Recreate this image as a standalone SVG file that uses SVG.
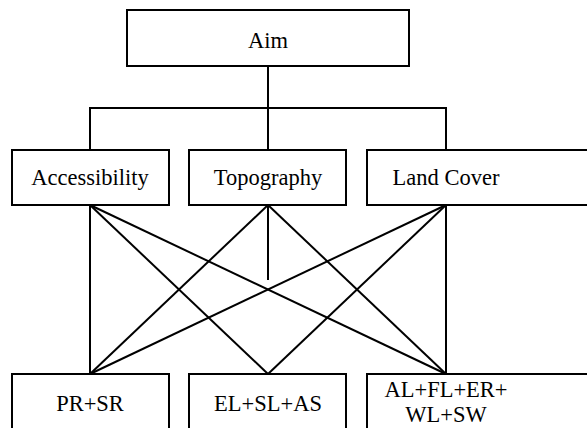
<svg xmlns="http://www.w3.org/2000/svg" width="587" height="428" viewBox="0 0 587 428">
<style>
rect{fill:#fff;stroke:#000;stroke-width:2}
line,path{stroke:#000;stroke-width:2;fill:none}
text{font-family:"Liberation Serif","Times New Roman",serif;font-size:22.5px;fill:#000;text-anchor:middle}
</style>
<rect x="0" y="0" width="587" height="428" style="stroke:none"/>
<g id="connectors">
<path d="M268 66V108M90 150V108H446V150M268 108V150"/>
<line x1="90" y1="205" x2="90" y2="374"/>
<line x1="90" y1="205" x2="268" y2="374"/>
<line x1="90" y1="205" x2="446" y2="374"/>
<line x1="268" y1="205" x2="90" y2="374"/>
<line x1="268" y1="205" x2="446" y2="374"/>
<line x1="268" y1="205" x2="268" y2="280"/>
<line x1="446" y1="205" x2="90" y2="374"/>
<line x1="446" y1="205" x2="268" y2="374"/>
<line x1="446" y1="205" x2="446" y2="374"/>
</g>
<g id="aim"><rect x="127" y="10" width="282" height="56"/><text x="268" y="48">Aim</text></g>
<g id="accessibility"><rect x="12" y="150" width="157" height="55"/><text x="90" y="185">Accessibility</text></g>
<g id="topography"><rect x="189" y="150" width="157" height="55"/><text x="268" y="185">Topography</text></g>
<g id="landcover"><rect x="367" y="150" width="230" height="55"/><text x="446" y="185">Land Cover</text></g>
<g id="prsr"><rect x="12" y="374" width="157" height="70"/><text x="90" y="411">PR+SR</text></g>
<g id="elslas"><rect x="189" y="374" width="157" height="70"/><text x="268" y="411">EL+SL+AS</text></g>
<g id="alflerwlsw"><rect x="367" y="374" width="230" height="70"/><text x="446" y="397">AL+FL+ER+</text><text x="446" y="422">WL+SW</text></g>
</svg>
